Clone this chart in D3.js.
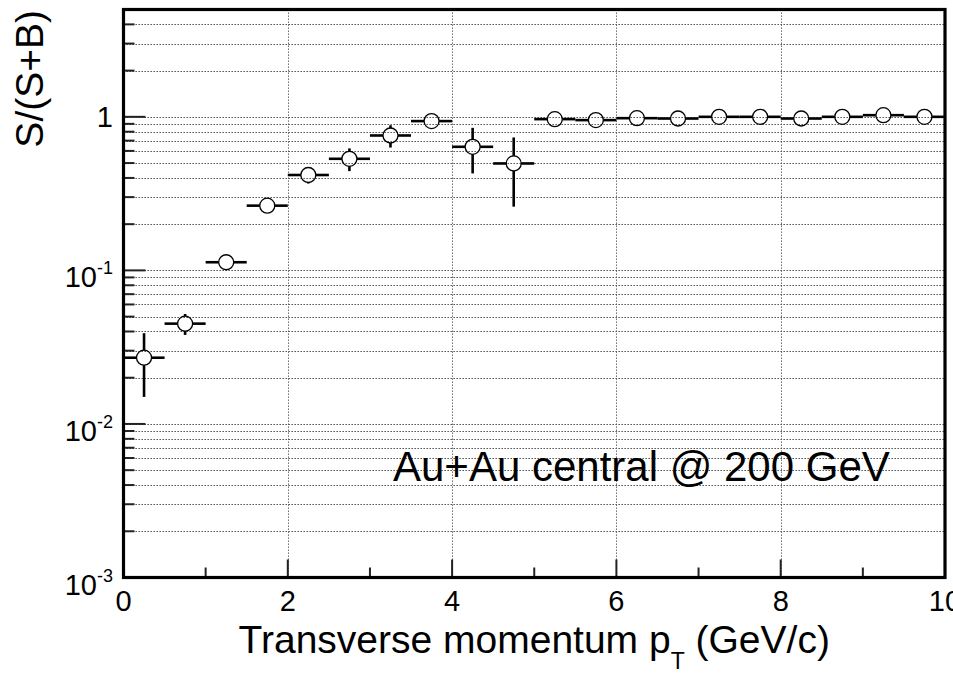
<!DOCTYPE html>
<html>
<head>
<meta charset="utf-8">
<script src="https://cdn.jsdelivr.net/npm/d3@7"></script>
<style>
  html, body { margin: 0; padding: 0; background: #fff; }
  svg { display: block; font-family: "Liberation Sans", Arial, Helvetica, sans-serif; }
</style>
</head>
<body>
<svg id="chart" width="953" height="673"></svg>
<script>
// Bin centres in pT (GeV/c), bin width 0.5
const ptCenters = [0.25, 0.75, 1.25, 1.75, 2.25, 2.75, 3.25, 3.75, 4.25, 4.75,
                   5.25, 5.75, 6.25, 6.75, 7.25, 7.75, 8.25, 8.75, 9.25, 9.75];
const ptHalfWidth = [0.25, 0.25, 0.25, 0.25, 0.25, 0.25, 0.25, 0.25, 0.25, 0.25,
                     0.25, 0.25, 0.25, 0.25, 0.25, 0.25, 0.25, 0.25, 0.25, 0.25];
// Signal fraction S/(S+B) and its uncertainty
const sigFraction = [0.027, 0.045, 0.113, 0.264, 0.418, 0.533, 0.756, 0.938, 0.638, 0.497,
                     0.966, 0.952, 0.980, 0.975, 1.000, 1.000, 0.975, 1.000, 1.025, 1.000];
const sigError = [0.012, 0.007, 0.004, 0.015, 0.05, 0.09, 0.125, 0.03, 0.21, 0.237,
                  0.02, 0.02, 0.02, 0.02, 0.02, 0.02, 0.02, 0.02, 0.02, 0.02];

const xMajorTicks = [0, 2, 4, 6, 8, 10];
const xMinorTicks = [1, 3, 5, 7, 9];
const yDecades = [1e-3, 1e-2, 1e-1, 1];
const yDecadeLabels = [["10", "-3"], ["10", "-2"], ["10", "-1"], ["1", ""]];
const annotation = "Au+Au central @ 200 GeV";
const xTitle = ["Transverse momentum p", "T", " (GeV/c)"];
const yTitle = "S/(S+B)";

const svg = d3.select("#chart");
const L = 123.5, R = 945, T = 9.5, B = 577.5;

const x = d3.scaleLinear().domain([0, 10]).range([L, R]);
const y = d3.scaleLog().domain([1e-3, 5]).range([B, T]);

// minor ticks on the log axis: 2..9 x each decade, up to 5
const yMinor = [];
yDecades.forEach(d => { for (let k = 2; k <= 9; k++) { const v = d * k; if (v <= 5) yMinor.push(v); } });
const yAllGrid = yDecades.concat(yMinor);

const grid = svg.append("g").attr("stroke", "#333").attr("stroke-width", 1)
  .attr("stroke-dasharray", "1.3,1.7").attr("fill", "none");
grid.selectAll("line.h").data(yAllGrid).join("line").attr("class", "h")
  .attr("x1", L).attr("x2", R)
  .attr("y1", d => Math.round(y(d)) + 0.5).attr("y2", d => Math.round(y(d)) + 0.5);
grid.selectAll("line.v").data([2, 4, 6, 8]).join("line").attr("class", "v")
  .attr("stroke", "#555")
  .attr("x1", d => Math.round(x(d)) + 0.5).attr("x2", d => Math.round(x(d)) + 0.5)
  .attr("y1", T).attr("y2", B);

// tick marks drawn inward
const ticks = svg.append("g").attr("stroke", "#222").attr("stroke-width", 2);
ticks.selectAll("line.ymaj").data(yDecades).join("line")
  .attr("x1", L).attr("x2", L + 22)
  .attr("y1", d => y(d)).attr("y2", d => y(d));
ticks.selectAll("line.ymin").data(yMinor).join("line")
  .attr("x1", L).attr("x2", L + 11)
  .attr("y1", d => y(d)).attr("y2", d => y(d));
ticks.selectAll("line.xmaj").data(xMajorTicks).join("line")
  .attr("x1", d => x(d)).attr("x2", d => x(d))
  .attr("y1", B).attr("y2", B - 18);
ticks.selectAll("line.xmin").data(xMinorTicks).join("line")
  .attr("x1", d => x(d)).attr("x2", d => x(d))
  .attr("y1", B).attr("y2", B - 10);

// data points: open circles with error bars kept outside the marker
const r = 7.5;
const pts = ptCenters.map((c, i) => ({ x: c, hw: ptHalfWidth[i], v: sigFraction[i], e: sigError[i] }));
const eb = svg.append("g").attr("stroke", "#000").attr("stroke-width", 2.6).attr("fill", "none");
pts.forEach(p => {
  const cx = x(p.x), cy = y(p.v);
  const xl = x(p.x - p.hw), xr = x(p.x + p.hw);
  eb.append("line").attr("x1", xl).attr("x2", cx - r).attr("y1", cy).attr("y2", cy);
  eb.append("line").attr("x1", cx + r).attr("x2", xr).attr("y1", cy).attr("y2", cy);
  const yt = y(p.v + p.e), yb = y(Math.max(p.v - p.e, 1.01e-3));
  if (yt < cy - r) eb.append("line").attr("x1", cx).attr("x2", cx).attr("y1", yt).attr("y2", cy - r);
  if (yb > cy + r) eb.append("line").attr("x1", cx).attr("x2", cx).attr("y1", cy + r).attr("y2", yb);
});
svg.append("g").selectAll("circle").data(pts).join("circle")
  .attr("cx", d => x(d.x)).attr("cy", d => y(d.v)).attr("r", r)
  .attr("fill", "none").attr("stroke", "#000").attr("stroke-width", 1.3);

// frame
svg.append("rect").attr("x", L).attr("y", T).attr("width", R - L).attr("height", B - T)
  .attr("fill", "none").attr("stroke", "#000").attr("stroke-width", 3.2);

// y tick labels
const yl = svg.append("g").attr("fill", "#000");
yDecades.forEach((d, i) => {
  const [base, exp] = yDecadeLabels[i];
  if (exp === "") {
    yl.append("text").attr("x", 113).attr("y", y(d) + 10).attr("text-anchor", "end")
      .attr("font-size", 29).text(base);
  } else {
    const t = yl.append("text").attr("x", 113).attr("y", y(d) + 17).attr("text-anchor", "end")
      .attr("font-size", 29);
    t.append("tspan").text(base);
    t.append("tspan").attr("font-size", 18).attr("dy", -13).text(exp);
  }
});

// x tick labels
svg.append("g").selectAll("text").data(xMajorTicks).join("text")
  .attr("x", d => x(d)).attr("y", 611).attr("text-anchor", "middle")
  .attr("font-size", 29).text(d => d);

// axis titles
const xt = svg.append("text").attr("x", (L + R) / 2).attr("y", 653).attr("text-anchor", "middle")
  .attr("font-size", 39);
xt.append("tspan").text(xTitle[0]);
xt.append("tspan").attr("font-size", 23).attr("dy", 16).text(xTitle[1]);
xt.append("tspan").attr("dy", -16).text(xTitle[2]);

svg.append("text").attr("transform", "translate(43,10) rotate(-90)")
  .attr("text-anchor", "end").attr("font-size", 39).text(yTitle);

// annotation
svg.append("text").attr("x", 393).attr("y", 481).attr("font-size", 42).text(annotation);
</script>
</body>
</html>
